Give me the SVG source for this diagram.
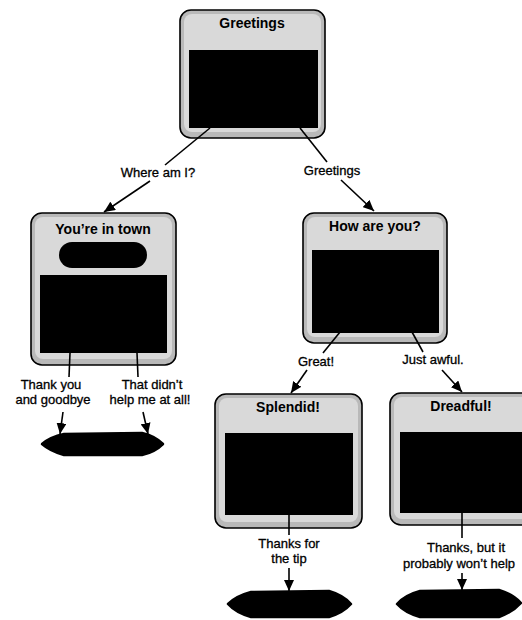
<svg xmlns="http://www.w3.org/2000/svg" width="522" height="620" viewBox="0 0 522 620">
<style>
.outer{fill:#b9b9b9;stroke:#000;stroke-width:1.6}
.inner{fill:#d9d9d9;stroke:none}
.screen{fill:#000}
.title{font-family:"Liberation Sans",Arial,sans-serif;font-weight:bold;font-size:14px;fill:#000;text-anchor:middle}
.lbl{font-family:"Liberation Sans",Arial,sans-serif;font-size:13px;fill:#000;stroke:#000;stroke-width:0.3;text-anchor:middle}
.edge{stroke:#000;stroke-width:1.6;fill:none}
.end{fill:#000;stroke:#000;stroke-width:2.5;stroke-linejoin:round}
</style>
<defs>
<marker id="arr" markerUnits="userSpaceOnUse" markerWidth="12" markerHeight="10" refX="11" refY="5" orient="auto">
<path d="M0,0 L11,5 L0,10 Z" fill="#000"/>
</marker>
</defs>
<rect width="522" height="620" fill="#fff"/>

<g id="node-greetings">
<rect class="outer" x="180" y="10" width="145" height="128" rx="11"/>
<rect class="inner" x="184" y="14" width="137" height="118" rx="8"/>
<text class="title" x="252" y="28">Greetings</text>
<rect class="screen" x="189" y="50" width="129" height="78"/>
</g>

<g id="node-youre-in-town">
<rect class="outer" x="31" y="213" width="145" height="152" rx="11"/>
<rect class="inner" x="35" y="217" width="137" height="142" rx="8"/>
<text class="title" x="103" y="234">You’re in town</text>
<rect class="screen" x="59" y="242" width="88" height="26" rx="13"/>
<rect class="screen" x="40" y="275" width="127" height="78"/>
</g>

<g id="node-how-are-you">
<rect class="outer" x="303" y="213" width="144" height="130" rx="11"/>
<rect class="inner" x="307" y="217" width="136" height="120" rx="8"/>
<text class="title" x="375" y="231">How are you?</text>
<rect class="screen" x="312" y="250" width="127" height="83"/>
</g>

<g id="node-splendid">
<rect class="outer" x="215" y="394" width="147" height="134" rx="11"/>
<rect class="inner" x="219" y="398" width="139" height="124" rx="8"/>
<text class="title" x="288" y="412">Splendid!</text>
<rect class="screen" x="225" y="433" width="128" height="82"/>
</g>

<g id="node-dreadful">
<rect class="outer" x="390" y="393" width="147" height="132" rx="11"/>
<rect class="inner" x="394" y="397" width="139" height="122" rx="8"/>
<text class="title" x="461" y="411">Dreadful!</text>
<rect class="screen" x="400" y="432" width="128" height="81"/>
</g>

<g id="end-left">
<path class="end" d="M42,444 Q50,437 64,434 L142,433 Q155,436 163,444 Q155,452 142,455 L64,455 Q50,451 42,444 Z"/>
</g>
<g id="end-splendid">
<path class="end" d="M228,604 Q236,596 251,592 L329,591 Q343,595 351,604 Q343,613 329,617 L251,617 Q236,613 228,604 Z"/>
</g>
<g id="end-dreadful">
<path class="end" d="M397,604 Q405,595 420,591 L499,590 Q513,594 521,603 Q513,612 499,617 L420,617 Q405,613 397,604 Z"/>
</g>

<g id="connectors">
<line class="edge" x1="210" y1="128" x2="165" y2="165"/>
<text class="lbl" x="158" y="177">Where am I?</text>
<line class="edge" x1="150" y1="181" x2="104" y2="212" marker-end="url(#arr)"/>

<line class="edge" x1="300" y1="128" x2="327" y2="162"/>
<text class="lbl" x="332" y="175">Greetings</text>
<line class="edge" x1="341" y1="180" x2="374" y2="211" marker-end="url(#arr)"/>

<line class="edge" x1="70" y1="353" x2="69" y2="377"/>
<text class="lbl" x="51" y="389">Thank you</text>
<text class="lbl" x="53" y="404">and goodbye</text>
<line class="edge" x1="63" y1="412" x2="60" y2="434" marker-end="url(#arr)"/>

<line class="edge" x1="137" y1="353" x2="138" y2="377"/>
<text class="lbl" x="152" y="389">That didn’t</text>
<text class="lbl" x="150" y="404">help me at all!</text>
<line class="edge" x1="143" y1="412" x2="148" y2="434" marker-end="url(#arr)"/>

<line class="edge" x1="340" y1="332" x2="323" y2="353"/>
<text class="lbl" x="316" y="366">Great!</text>
<line class="edge" x1="307" y1="370" x2="291" y2="393" marker-end="url(#arr)"/>

<line class="edge" x1="412" y1="332" x2="423" y2="352"/>
<text class="lbl" x="433" y="364">Just awful.</text>
<line class="edge" x1="442" y1="370" x2="462" y2="392" marker-end="url(#arr)"/>

<line class="edge" x1="289" y1="515" x2="289" y2="535"/>
<text class="lbl" x="289" y="548">Thanks for</text>
<text class="lbl" x="289" y="563">the tip</text>
<line class="edge" x1="289" y1="568" x2="289" y2="591" marker-end="url(#arr)"/>

<line class="edge" x1="462" y1="513" x2="462" y2="538"/>
<text class="lbl" x="466" y="552">Thanks, but it</text>
<text class="lbl" x="459" y="568">probably won’t help</text>
<line class="edge" x1="462" y1="573" x2="462" y2="590" marker-end="url(#arr)"/>
</g>
</svg>
